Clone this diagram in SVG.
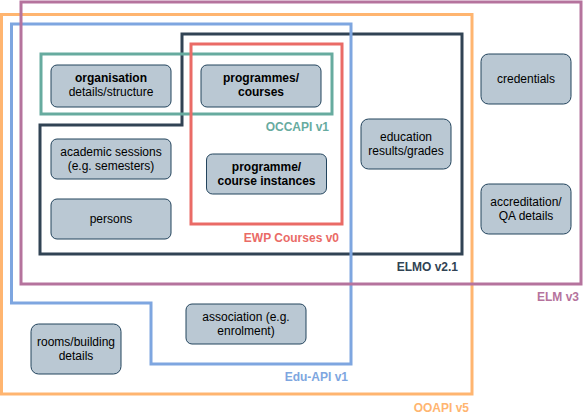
<svg xmlns="http://www.w3.org/2000/svg" width="584" height="415" viewBox="0 0 584 415">
<style>
.grp{fill:none;stroke-width:3}
.node rect{fill:#bac8d3;stroke:#23445d;stroke-width:1}
.node text{font-family:"Liberation Sans",Arial,sans-serif;font-size:12px;fill:#000;text-anchor:middle}
.b{font-weight:bold}
.lbl{font-family:"Liberation Sans",Arial,sans-serif;font-size:12px;font-weight:bold;text-anchor:end}
</style>
<rect width="584" height="415" fill="#ffffff"/>
<g id="connectors">
<g id="elmo-group">
<polygon class="grp" stroke="#314354" points="182,34 462,34 462,254 40,254 40,125 182,125"/>
<text class="lbl" fill="#314354" x="458" y="271">ELMO v2.1</text>
</g>
<g id="occapi-group">
<rect class="grp" stroke="#67AB9F" x="41" y="54" width="291" height="60"/>
<text class="lbl" fill="#67AB9F" x="329" y="131">OCCAPI v1</text>
</g>
<g id="ewp-group">
<rect class="grp" stroke="#EA6B66" x="191" y="44" width="151" height="180"/>
<text class="lbl" fill="#EA6B66" x="339" y="241.5">EWP Courses v0</text>
</g>
<g id="eduapi-group">
<polygon class="grp" stroke="#7EA6E0" points="11.5,24 351,24 351,364 151,364 151,303 11.5,303"/>
<text class="lbl" fill="#7EA6E0" x="348" y="381">Edu-API v1</text>
</g>
<g id="ooapi-group">
<rect class="grp" stroke="#FFB570" x="1.5" y="14.5" width="470.5" height="379.5"/>
<text class="lbl" fill="#FFB570" x="469" y="412">OOAPI v5</text>
</g>
<g id="elm-group">
<rect class="grp" stroke="#B5739D" x="21" y="2" width="560" height="282"/>
<text class="lbl" fill="#B5739D" x="579" y="301">ELM v3</text>
</g>
</g>
<g id="organisation" class="node">
<rect x="51" y="65" width="120" height="42" rx="6"/>
<text x="111" y="82" class="b">organisation</text>
<text x="111" y="96">details/structure</text>
</g>
<g id="programmes" class="node">
<rect x="201" y="65" width="120" height="42" rx="6"/>
<text x="261" y="82" class="b">programmes/</text>
<text x="261" y="96" class="b">courses</text>
</g>
<g id="academic-sessions" class="node">
<rect x="51" y="139" width="120" height="40" rx="6"/>
<text x="111" y="156">academic sessions</text>
<text x="111" y="170">(e.g. semesters)</text>
</g>
<g id="course-instances" class="node">
<rect x="206.5" y="154" width="120" height="40" rx="6"/>
<text x="266.5" y="171" class="b">programme/</text>
<text x="266.5" y="185" class="b">course instances</text>
</g>
<g id="persons" class="node">
<rect x="51" y="199" width="120" height="40" rx="6"/>
<text x="111" y="223">persons</text>
</g>
<g id="education-results" class="node">
<rect x="361" y="119" width="90" height="50" rx="7.5"/>
<text x="406" y="141">education</text>
<text x="406" y="155">results/grades</text>
</g>
<g id="credentials" class="node">
<rect x="481" y="54" width="90" height="50" rx="7.5"/>
<text x="526" y="83">credentials</text>
</g>
<g id="accreditation" class="node">
<rect x="481" y="184" width="90" height="50" rx="7.5"/>
<text x="526" y="206">accreditation/</text>
<text x="526" y="220">QA details</text>
</g>
<g id="rooms" class="node">
<rect x="31" y="324" width="90" height="50" rx="7.5"/>
<text x="76" y="346">rooms/building</text>
<text x="76" y="360">details</text>
</g>
<g id="association" class="node">
<rect x="186" y="304" width="120" height="40" rx="6"/>
<text x="246" y="321">association (e.g.</text>
<text x="246" y="335">enrolment)</text>
</g>
</svg>
